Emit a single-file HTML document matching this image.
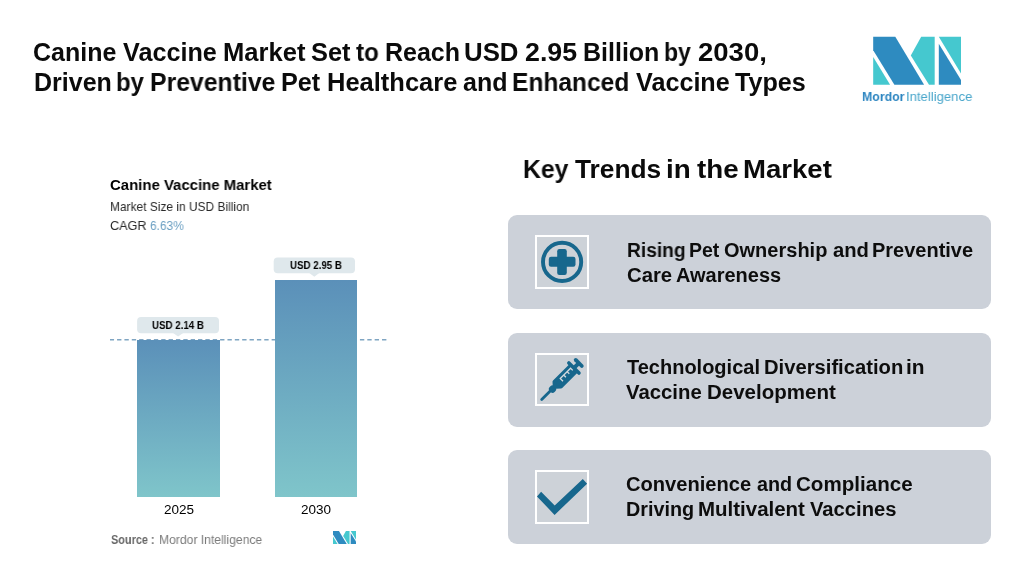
<!DOCTYPE html>
<html>
<head>
<meta charset="utf-8">
<style>
html,body{margin:0;padding:0;}
body{width:1020px;height:579px;background:#ffffff;position:relative;overflow:hidden;font-family:"Liberation Sans",sans-serif;color:#0d0d0d;}
.abs{position:absolute;}
.t{position:absolute;white-space:nowrap;line-height:1;transform-origin:0 0;will-change:transform;font-family:"Liberation Sans",sans-serif;}
.card{position:absolute;left:508px;width:483px;height:94px;background:#ccd1d9;border-radius:9px;}
.ibox{position:absolute;left:534.8px;width:49.8px;height:49.6px;border:2.2px solid #ffffff;background:#cdd2d8;}
.bar{position:absolute;background:linear-gradient(#5b90b9,#7fc5ca);}
</style>
</head>
<body>
<!-- logo -->
<svg class="abs" style="left:860px;top:30px" width="120" height="80" viewBox="860 30 120 80">
  <polygon points="873.2,36.8 895.3,36.8 924.1,84.8 894.4,84.8 873.2,50.2" fill="#2e8bc0"/>
  <polygon points="873.2,57.1 890.1,84.8 873.2,84.8" fill="#45c8cf"/>
  <polygon points="921.2,36.8 934.7,36.8 934.7,84.8 929,84.8 910.8,55.4" fill="#45c8cf"/>
  <polygon points="938.8,36.8 961,36.8 961,73.4" fill="#45c8cf"/>
  <polygon points="938.8,43.8 961,79.9 961,84.8 938.8,84.8" fill="#2e8bc0"/>
</svg>

<!-- chart -->
<svg class="abs" style="left:110px;top:337px" width="280" height="6"><line x1="-0.3" y1="2.8" x2="276.5" y2="2.8" stroke="#7fa5c2" stroke-width="1.5" stroke-dasharray="4.36 3"/></svg>
<div class="bar" style="left:137.3px;top:340px;width:82.7px;height:156.9px;"></div>
<div class="bar" style="left:274.9px;top:280.1px;width:82.3px;height:216.8px;"></div>
<svg class="abs" style="left:130px;top:250px" width="240" height="95" viewBox="130 250 240 95">
  <g fill="#dfe8ec">
    <rect x="137.1" y="317.1" width="81.9" height="16.1" rx="4"/>
    <polygon points="173.1,333 183.1,333 178.1,336.5"/>
    <rect x="273.7" y="257.4" width="81.3" height="15.9" rx="4"/>
    <polygon points="309.3,273.1 319.3,273.1 314.3,276.8"/>
  </g>
</svg>
<svg class="abs" style="left:332.6px;top:531.1px" width="23.7" height="12.9" viewBox="873.2 36.8 87.8 48" preserveAspectRatio="none">
  <polygon points="873.2,36.8 895.3,36.8 924.1,84.8 894.4,84.8 873.2,50.2" fill="#2e8bc0"/>
  <polygon points="873.2,57.1 890.1,84.8 873.2,84.8" fill="#45c8cf"/>
  <polygon points="921.2,36.8 934.7,36.8 934.7,84.8 929,84.8 910.8,55.4" fill="#45c8cf"/>
  <polygon points="938.8,36.8 961,36.8 961,73.4" fill="#45c8cf"/>
  <polygon points="938.8,43.8 961,79.9 961,84.8 938.8,84.8" fill="#2e8bc0"/>
</svg>

<!-- cards -->
<div class="card" style="top:215px;"></div>
<div class="card" style="top:332.5px;"></div>
<div class="card" style="top:450px;"></div>
<div class="ibox" style="top:235px;"></div>
<div class="ibox" style="top:352.5px;"></div>
<div class="ibox" style="top:470px;"></div>

<svg class="abs" style="left:535px;top:235px" width="54" height="54" viewBox="535 235 54 54">
  <circle cx="562.1" cy="261.9" r="19.1" fill="none" stroke="#17678d" stroke-width="3.9"/>
  <rect x="548.8" y="256.8" width="26.7" height="10" rx="2.2" fill="#17678d"/>
  <rect x="557.2" y="249" width="9.6" height="26" rx="2.2" fill="#17678d"/>
</svg>
<svg class="abs" style="left:533px;top:351px" width="58" height="58" viewBox="533 351 58 58" id="syr">
  <g transform="translate(541.5 399.5) rotate(-45)" fill="#17678d" stroke="none">
    <line x1="0.2" y1="0.1" x2="14" y2="0.1" stroke="#17678d" stroke-width="2.8" stroke-linecap="round"/>
    <rect x="11.8" y="-3" width="6.6" height="6.9" rx="2.8"/>
    <path d="M19 -0.6 L21.6 -3.5 L44 -3.5 L44 4.7 L22.8 4.7 L19 1.4 Z" stroke="#17678d" stroke-width="3.6" stroke-linejoin="round"/>
    <line x1="45.2" y1="-6.5" x2="45.2" y2="7.8" stroke="#17678d" stroke-width="3.6" stroke-linecap="round"/>
    <rect x="45" y="-1.4" width="7.5" height="4.1"/>
    <line x1="52.2" y1="-3.8" x2="52.2" y2="4.8" stroke="#17678d" stroke-width="3.8" stroke-linecap="round"/>
    <g stroke="#d6dade" stroke-width="1.3" fill="none">
      <path d="M28.1 2.3 L28.1 -1.6 L42.7 -1.6 L42.7 1.5 M33 -1.6 L33 1.5 M37.8 -1.6 L37.8 1.5"/>
    </g>
  </g>
</svg>
<svg class="abs" style="left:535px;top:470px" width="54" height="54" viewBox="535 470 54 54">
  <polygon points="537,496.5 541.1,491.7 554.7,505.6 582.8,479 587.1,483.8 554.6,514.9" fill="#17678d"/>
</svg>

<div class="t" id="t1_0" style="left:33.31px;top:39.84px;font-size:25.0px;font-weight:bold;color:#0b0b0b;transform:scaleX(0.9965)">Canine </div>
<div class="t" id="t1_1" style="left:122.56px;top:39.84px;font-size:25.0px;font-weight:bold;color:#0b0b0b;transform:scaleX(1.0078)">Vaccine </div>
<div class="t" id="t1_2" style="left:222.63px;top:39.84px;font-size:25.0px;font-weight:bold;color:#0b0b0b;transform:scaleX(1.0224)">Market </div>
<div class="t" id="t1_3" style="left:310.99px;top:39.84px;font-size:25.0px;font-weight:bold;color:#0b0b0b;transform:scaleX(1.0158)">Set </div>
<div class="t" id="t1_4" style="left:356.39px;top:39.84px;font-size:25.0px;font-weight:bold;color:#0b0b0b;transform:scaleX(0.9703)">to </div>
<div class="t" id="t1_5" style="left:385.43px;top:39.84px;font-size:25.0px;font-weight:bold;color:#0b0b0b;transform:scaleX(0.9942)">Reach </div>
<div class="t" id="t1_6" style="left:464.08px;top:39.84px;font-size:25.0px;font-weight:bold;color:#0b0b0b;transform:scaleX(1.0325)">USD </div>
<div class="t" id="t1_7" style="left:524.59px;top:39.84px;font-size:25.0px;font-weight:bold;color:#0b0b0b;transform:scaleX(1.0706)">2.95 </div>
<div class="t" id="t1_8" style="left:583.02px;top:39.84px;font-size:25.0px;font-weight:bold;color:#0b0b0b;transform:scaleX(1.0002)">Billion </div>
<div class="t" id="t1_9" style="left:664.37px;top:39.84px;font-size:25.0px;font-weight:bold;color:#0b0b0b;transform:scaleX(0.9185)">by </div>
<div class="t" id="t1_10" style="left:697.51px;top:39.84px;font-size:25.0px;font-weight:bold;color:#0b0b0b;transform:scaleX(1.1000)">2030, </div>
<div class="t" id="t2_0" style="left:33.83px;top:69.84px;font-size:25.0px;font-weight:bold;color:#0b0b0b;transform:scaleX(0.9943)">Driven </div>
<div class="t" id="t2_1" style="left:115.89px;top:69.84px;font-size:25.0px;font-weight:bold;color:#0b0b0b;transform:scaleX(0.9565)">by </div>
<div class="t" id="t2_2" style="left:149.84px;top:69.84px;font-size:25.0px;font-weight:bold;color:#0b0b0b;transform:scaleX(0.9912)">Preventive </div>
<div class="t" id="t2_3" style="left:281.15px;top:69.84px;font-size:25.0px;font-weight:bold;color:#0b0b0b;transform:scaleX(1.0074)">Pet </div>
<div class="t" id="t2_4" style="left:327.03px;top:69.84px;font-size:25.0px;font-weight:bold;color:#0b0b0b;transform:scaleX(1.0198)">Healthcare </div>
<div class="t" id="t2_5" style="left:462.67px;top:69.84px;font-size:25.0px;font-weight:bold;color:#0b0b0b;transform:scaleX(0.9918)">and </div>
<div class="t" id="t2_6" style="left:512.46px;top:69.84px;font-size:25.0px;font-weight:bold;color:#0b0b0b;transform:scaleX(0.9813)">Enhanced </div>
<div class="t" id="t2_7" style="left:636.36px;top:69.84px;font-size:25.0px;font-weight:bold;color:#0b0b0b;transform:scaleX(1.0066)">Vaccine </div>
<div class="t" id="t2_8" style="left:734.55px;top:69.84px;font-size:25.0px;font-weight:bold;color:#0b0b0b;transform:scaleX(1.0054)">Types </div>
<div class="t" id="key_0" style="left:523.36px;top:156.58px;font-size:25.3px;font-weight:bold;color:#0b0b0b;transform:scaleX(0.9806)">Key </div>
<div class="t" id="key_1" style="left:575.33px;top:156.58px;font-size:25.3px;font-weight:bold;color:#0b0b0b;transform:scaleX(1.0397)">Trends </div>
<div class="t" id="key_2" style="left:665.55px;top:156.58px;font-size:25.3px;font-weight:bold;color:#0b0b0b;transform:scaleX(1.0981)">in </div>
<div class="t" id="key_3" style="left:696.81px;top:156.58px;font-size:25.3px;font-weight:bold;color:#0b0b0b;transform:scaleX(1.0962)">the </div>
<div class="t" id="key_4" style="left:742.86px;top:156.58px;font-size:25.3px;font-weight:bold;color:#0b0b0b;transform:scaleX(1.0900)">Market </div>
<div class="t" id="c1a_0" style="left:626.50px;top:240.58px;font-size:19.4px;font-weight:bold;color:#0d0d0d;transform:scaleX(0.9878)">Rising </div>
<div class="t" id="c1a_1" style="left:689.46px;top:240.58px;font-size:19.4px;font-weight:bold;color:#0d0d0d;transform:scaleX(1.0062)">Pet </div>
<div class="t" id="c1a_2" style="left:724.14px;top:240.58px;font-size:19.4px;font-weight:bold;color:#0d0d0d;transform:scaleX(1.0317)">Ownership </div>
<div class="t" id="c1a_3" style="left:832.80px;top:240.58px;font-size:19.4px;font-weight:bold;color:#0d0d0d;transform:scaleX(1.0432)">and </div>
<div class="t" id="c1a_4" style="left:872.45px;top:240.58px;font-size:19.4px;font-weight:bold;color:#0d0d0d;transform:scaleX(1.0305)">Preventive </div>
<div class="t" id="c1b_0" style="left:626.88px;top:265.58px;font-size:19.4px;font-weight:bold;color:#0d0d0d;transform:scaleX(1.0474)">Care </div>
<div class="t" id="c1b_1" style="left:675.80px;top:265.58px;font-size:19.4px;font-weight:bold;color:#0d0d0d;transform:scaleX(1.0304)">Awareness </div>
<div class="t" id="c2a_0" style="left:626.61px;top:357.58px;font-size:19.4px;font-weight:bold;color:#0d0d0d;transform:scaleX(1.0311)">Technological </div>
<div class="t" id="c2a_1" style="left:763.57px;top:357.58px;font-size:19.4px;font-weight:bold;color:#0d0d0d;transform:scaleX(1.0419)">Diversification </div>
<div class="t" id="c2a_2" style="left:905.88px;top:357.58px;font-size:19.4px;font-weight:bold;color:#0d0d0d;transform:scaleX(1.0757)">in </div>
<div class="t" id="c2b_0" style="left:626.16px;top:382.58px;font-size:19.4px;font-weight:bold;color:#0d0d0d;transform:scaleX(1.0477)">Vaccine </div>
<div class="t" id="c2b_1" style="left:706.87px;top:382.58px;font-size:19.4px;font-weight:bold;color:#0d0d0d;transform:scaleX(1.0576)">Development </div>
<div class="t" id="c3a_0" style="left:625.93px;top:474.58px;font-size:19.4px;font-weight:bold;color:#0d0d0d;transform:scaleX(1.0374)">Convenience </div>
<div class="t" id="c3a_1" style="left:757.06px;top:474.58px;font-size:19.4px;font-weight:bold;color:#0d0d0d;transform:scaleX(1.0198)">and </div>
<div class="t" id="c3a_2" style="left:796.44px;top:474.58px;font-size:19.4px;font-weight:bold;color:#0d0d0d;transform:scaleX(1.0606)">Compliance </div>
<div class="t" id="c3b_0" style="left:626.33px;top:499.58px;font-size:19.4px;font-weight:bold;color:#0d0d0d;transform:scaleX(1.0202)">Driving </div>
<div class="t" id="c3b_1" style="left:698.45px;top:499.58px;font-size:19.4px;font-weight:bold;color:#0d0d0d;transform:scaleX(1.0560)">Multivalent </div>
<div class="t" id="c3b_2" style="left:809.97px;top:499.58px;font-size:19.4px;font-weight:bold;color:#0d0d0d;transform:scaleX(1.0423)">Vaccines </div>
<div class="t" id="ct" style="left:109.75px;top:177.30px;font-size:15.0px;font-weight:bold;color:#000000;transform:scaleX(0.9952)">Canine Vaccine Market </div>
<div class="t" id="cs" style="left:109.55px;top:199.83px;font-size:13.2px;font-weight:normal;color:#2a2a2a;transform:scaleX(0.9053)">Market Size in USD Billion </div>
<div class="t" id="cg1" style="left:109.69px;top:218.83px;font-size:13.2px;font-weight:normal;color:#2a2a2a;transform:scaleX(0.9603)">CAGR </div>
<div class="t" id="cg2" style="left:150.32px;top:218.83px;font-size:13.2px;font-weight:normal;color:#6a9fc2;transform:scaleX(0.9036)">6.63% </div>
<div class="t" id="p1" style="left:151.64px;top:319.69px;font-size:11.0px;font-weight:bold;color:#000000;transform:scaleX(0.8845)">USD 2.14 B </div>
<div class="t" id="p2" style="left:289.58px;top:259.69px;font-size:11.0px;font-weight:bold;color:#000000;transform:scaleX(0.8845)">USD 2.95 B </div>
<div class="t" id="y1" style="left:164.08px;top:502.83px;font-size:13.2px;font-weight:normal;color:#000000;transform:scaleX(1.0254)">2025 </div>
<div class="t" id="y2" style="left:300.90px;top:502.83px;font-size:13.2px;font-weight:normal;color:#000000;transform:scaleX(1.0233)">2030 </div>
<div class="t" id="s1" style="left:111.08px;top:532.83px;font-size:13.2px;font-weight:bold;color:#666666;transform:scaleX(0.8280)">Source : </div>
<div class="t" id="s2" style="left:159.27px;top:532.83px;font-size:13.2px;font-weight:normal;color:#7a7a7a;transform:scaleX(0.9205)">Mordor Intelligence </div>
<div class="t" id="m1" style="left:861.77px;top:90.49px;font-size:13.6px;font-weight:bold;color:#2e86c1;transform:scaleX(0.9068)">Mordor </div>
<div class="t" id="m2" style="left:906.49px;top:90.49px;font-size:13.6px;font-weight:normal;color:#49a6cb;transform:scaleX(0.9643)">Intelligence </div>
</body>
</html>
